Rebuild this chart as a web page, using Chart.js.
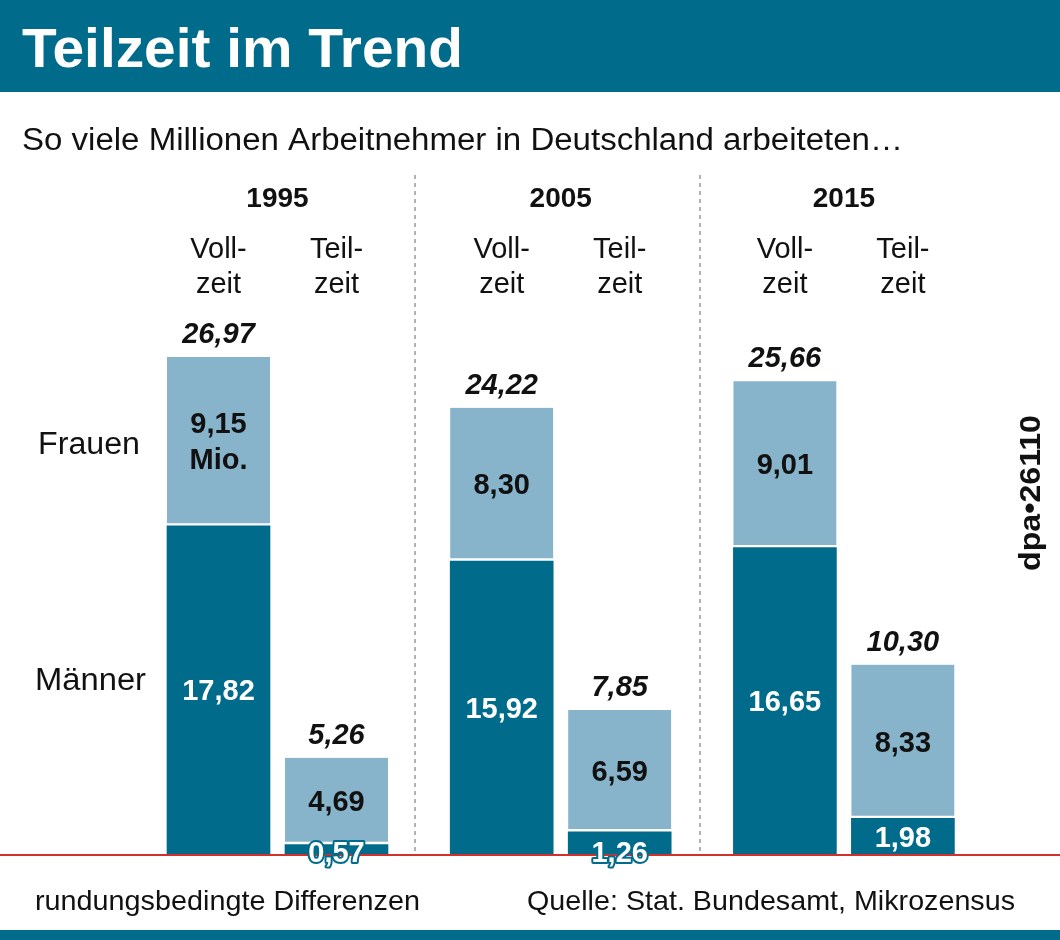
<!DOCTYPE html>
<html><head><meta charset="utf-8">
<script src="https://cdn.jsdelivr.net/npm/chart.js@4"></script>
<style>html,body{margin:0;padding:0;background:#fff}#w{width:1060px;height:940px;position:relative}</style>
</head><body><div id="w"><canvas id="c"></canvas></div>
<script>
const years = ["1995","2005","2015"];
const kinds = ["Voll-\nzeit","Teil-\nzeit"];
const men = [17.82, 0.57, 15.92, 1.26, 16.65, 1.98];
const women = [9.15, 4.69, 8.30, 6.59, 9.01, 8.33];
const totals = ["26,97","5,26","24,22","7,85","25,66","10,30"];
const menLabels = ["17,82","0,57","15,92","1,26","16,65","1,98"];
const womenLabels = ["9,15\nMio.","4,69","8,30","6,59","9,01","8,33"];

const DARK="#006b8a", LIGHT="#87b4ca", F="'Liberation Sans', Arial, sans-serif";
const xs = men.map((_, i) => Math.floor(i/2)*2.4 + (i%2));
const xmin = -218.5/118, xmax = xmin + 1060/118;

function fitText(c,t,x,y,w){ c.save(); c.translate(x,y); const m=c.measureText(t).width; c.scale(w/m,1); c.fillText(t,0,0); c.restore(); }

const deco = {
  id:'deco',
  beforeDraw(ch){
    const c=ch.ctx; c.save();
    c.fillStyle=DARK; c.fillRect(0,0,1060,92); c.fillRect(0,930,1060,10);
    c.fillStyle="#fff"; c.font="bold 56px "+F; c.textBaseline="alphabetic"; fitText(c,"Teilzeit im Trend",22,67,441);
    c.fillStyle="#111"; c.font="31px "+F; fitText(c,"So viele Millionen Arbeitnehmer in Deutschland arbeiteten…",22,150,881);
    c.strokeStyle="#999"; c.lineWidth=1.5; c.setLineDash([4,4]);
    [415,700].forEach(x=>{c.beginPath();c.moveTo(x,175);c.lineTo(x,855);c.stroke();});
    c.setLineDash([]);
    const xsc=ch.scales.x;
    c.textAlign="center"; c.fillStyle="#111";
    years.forEach((y,g)=>{ c.font="bold 28px "+F; c.fillText(y,(xsc.getPixelForValue(xs[2*g])+xsc.getPixelForValue(xs[2*g+1]))/2,207);
      for(let k=0;k<2;k++){ const x=xsc.getPixelForValue(xs[2*g+k]); c.font="29px "+F;
        kinds[k].split("\n").forEach((l,j)=>c.fillText(l,x,258+j*35)); } });
    c.textAlign="left"; c.font="31px "+F;
    fitText(c,"Frauen",38,454,102); fitText(c,"Männer",35,690,111);
    c.font="28px "+F; fitText(c,"rundungsbedingte Differenzen",35,910,385);
    fitText(c,"Quelle: Stat. Bundesamt, Mikrozensus",527,910,488);
    c.save(); c.translate(1040,493); c.rotate(-Math.PI/2); c.font="bold 29px "+F; fitText(c,"dpa•26110",-78,0,156); c.restore();
    c.restore();
  },
  afterDatasetsDraw(ch){
    const c=ch.ctx, xsc=ch.scales.x, ysc=ch.scales.y; c.save(); c.textAlign="center";
    c.strokeStyle="#d0312d"; c.lineWidth=2; c.beginPath(); c.moveTo(0,855); c.lineTo(1060,855); c.stroke();
    men.forEach((m,i)=>{
      const x=xsc.getPixelForValue(xs[i]), tot=m+women[i];
      c.fillStyle="#111"; c.font="italic bold 29px "+F; c.fillText(totals[i],x,ysc.getPixelForValue(tot)-14);
      c.font="bold 29px "+F;
      const wl=womenLabels[i].split("\n"), wm=ysc.getPixelForValue(m+women[i]/2);
      wl.forEach((l,j)=>c.fillText(l,x,wm+10+(j-(wl.length-1)/2)*36));
      let my=ysc.getPixelForValue(m/2)+10;
      if(m<1.5){ my=862; c.lineWidth=4; c.strokeStyle=DARK; c.lineJoin="round"; c.strokeText(menLabels[i],x,my); }
      c.fillStyle="#fff"; c.fillText(menLabels[i],x,my);
    });
    c.restore();
  }
};

new Chart(document.getElementById('c'),{
  type:'bar',
  data:{datasets:[
    {data:men.map((v,i)=>({x:xs[i],y:v})),backgroundColor:DARK,barThickness:103,borderWidth:0},
    {data:women.map((v,i)=>({x:xs[i],y:v})),backgroundColor:LIGHT,barThickness:103,borderColor:"#fff",borderWidth:{bottom:3,top:0,left:0,right:0},borderSkipped:false}
  ]},
  options:{responsive:true,maintainAspectRatio:false,animation:false,
    layout:{padding:{top:300,bottom:85,left:0,right:0}},
    plugins:{legend:{display:false},tooltip:{enabled:false}},
    scales:{x:{type:'linear',min:xmin,max:xmax,offset:false,display:false,stacked:true},
            y:{min:0,max:555/(498/26.97),display:false,stacked:true}}},
  plugins:[deco]
});
</script></body></html>
